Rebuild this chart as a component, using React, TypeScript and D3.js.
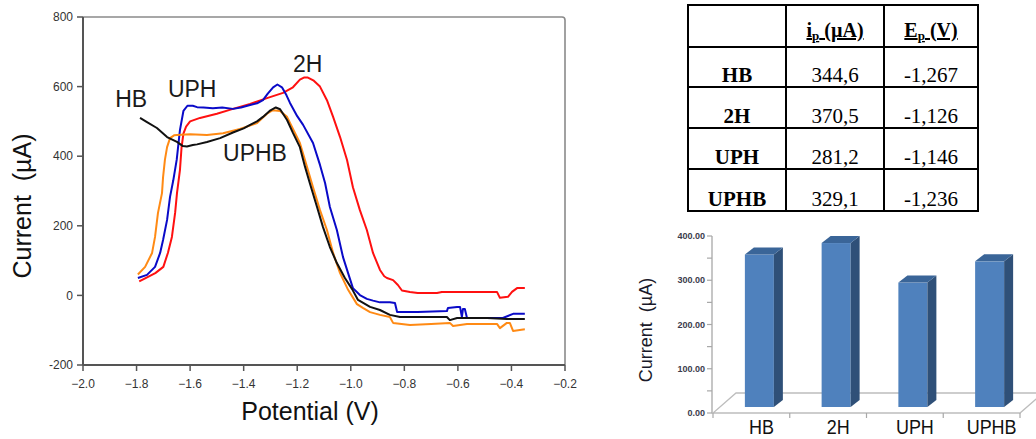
import React from 'react';
import * as d3 from 'd3';

type P = [number, number];

// ---------- line chart data (Potential V, Current µA) ----------
const xTicks = [-2.0, -1.8, -1.6, -1.4, -1.2, -1.0, -0.8, -0.6, -0.4, -0.2];
const yTicks = [-200, 0, 200, 400, 600, 800];

const series2H: P[] = [
  [-1.79, 40], [-1.77, 48], [-1.73, 64], [-1.70, 82], [-1.683, 122], [-1.668, 168], [-1.656, 237],
  [-1.649, 294], [-1.638, 360], [-1.632, 425], [-1.625, 465], [-1.615, 485], [-1.60, 500], [-1.563, 510],
  [-1.50, 522], [-1.44, 536], [-1.376, 550], [-1.313, 567], [-1.253, 582], [-1.216, 598], [-1.19, 620],
  [-1.175, 626], [-1.16, 626], [-1.14, 618], [-1.115, 600], [-1.089, 561], [-1.066, 513], [-1.04, 455],
  [-1.014, 389], [-0.992, 311], [-0.966, 245], [-0.94, 188], [-0.917, 122], [-0.891, 73], [-0.875, 55],
  [-0.865, 50], [-0.842, 44], [-0.824, 30], [-0.809, 14], [-0.779, 10], [-0.75, 7], [-0.678, 7],
  [-0.66, 10], [-0.454, 10], [-0.443, -7], [-0.413, -4], [-0.398, 10], [-0.379, 21], [-0.35, 21],
];

const seriesUPH: P[] = [
  [-1.795, 50], [-1.761, 59], [-1.731, 82], [-1.712, 122], [-1.701, 159], [-1.686, 217], [-1.675, 283],
  [-1.663, 330], [-1.65, 390], [-1.638, 475], [-1.625, 530], [-1.61, 545], [-1.59, 545], [-1.574, 541],
  [-1.55, 540], [-1.515, 538], [-1.48, 540], [-1.44, 536], [-1.41, 540], [-1.376, 547], [-1.35, 552],
  [-1.328, 561], [-1.31, 580], [-1.29, 598], [-1.274, 606], [-1.257, 598], [-1.24, 575], [-1.227, 553],
  [-1.20, 515], [-1.178, 490], [-1.141, 438], [-1.115, 375], [-1.096, 323], [-1.078, 254], [-1.052, 188],
  [-1.029, 110], [-1.01, 64], [-0.992, 21], [-0.966, 1], [-0.94, -10], [-0.917, -15], [-0.891, -20],
  [-0.854, -20], [-0.835, -22], [-0.827, -48], [-0.75, -48], [-0.641, -45], [-0.637, -36], [-0.603, -33],
  [-0.592, -33], [-0.585, -62], [-0.581, -39], [-0.574, -39], [-0.566, -65], [-0.432, -65], [-0.394, -53],
  [-0.35, -53],
];

const seriesHB: P[] = [
  [-1.787, 510], [-1.761, 498], [-1.724, 481], [-1.686, 455], [-1.649, 441], [-1.627, 429], [-1.612, 428],
  [-1.59, 432], [-1.574, 434], [-1.537, 441], [-1.488, 452], [-1.44, 468], [-1.40, 480], [-1.376, 490],
  [-1.35, 500], [-1.328, 513], [-1.30, 532], [-1.28, 540], [-1.264, 535], [-1.238, 504], [-1.216, 467],
  [-1.19, 426], [-1.171, 370], [-1.152, 320], [-1.126, 254], [-1.104, 197], [-1.078, 139], [-1.052, 93],
  [-1.022, 50], [-0.995, 18], [-0.973, -13], [-0.928, -33], [-0.891, -42], [-0.854, -56], [-0.816, -62],
  [-0.641, -62], [-0.63, -71], [-0.603, -65], [-0.491, -65], [-0.417, -68], [-0.35, -68],
];

const seriesUPHB: P[] = [
  [-1.795, 60], [-1.768, 82], [-1.742, 122], [-1.731, 168], [-1.72, 237], [-1.705, 294], [-1.701, 340],
  [-1.694, 390], [-1.686, 426], [-1.675, 452], [-1.66, 460], [-1.649, 461], [-1.60, 463], [-1.537, 461],
  [-1.477, 466], [-1.414, 478], [-1.35, 495], [-1.313, 522], [-1.291, 532], [-1.264, 530], [-1.238, 513],
  [-1.19, 438], [-1.16, 360], [-1.141, 311], [-1.115, 245], [-1.089, 188], [-1.066, 122], [-1.04, 64],
  [-1.01, 16], [-0.977, -25], [-0.955, -36], [-0.928, -48], [-0.891, -56], [-0.854, -62], [-0.842, -79],
  [-0.779, -85], [-0.70, -82], [-0.63, -79], [-0.618, -88], [-0.566, -82], [-0.454, -82], [-0.443, -94],
  [-0.417, -79], [-0.406, -79], [-0.394, -102], [-0.35, -97],
];

const lineSeries = [
  { name: '2H', color: '#ff1010', data: series2H },
  { name: 'UPH', color: '#0a0ac8', data: seriesUPH },
  { name: 'UPHB', color: '#ff8a14', data: seriesUPHB },
  { name: 'HB', color: '#111111', data: seriesHB },
];

// annotation labels placed in data coordinates (V, µA)
const curveLabels: { text: string; v: number; i: number }[] = [
  { text: 'HB', v: -1.88, i: 541 },
  { text: 'UPH', v: -1.683, i: 570 },
  { text: '2H', v: -1.216, i: 642 },
  { text: 'UPHB', v: -1.477, i: 386 },
];

// ---------- table / bar data ----------
const categories = ['HB', '2H', 'UPH', 'UPHB'];
const ipValues = [344.6, 370.5, 281.2, 329.1];
const ipLabels = ['344,6', '370,5', '281,2', '329,1'];
const epLabels = ['-1,267', '-1,126', '-1,146', '-1,236'];
const barTicks = [0, 100, 200, 300, 400];
const barMinorTicks = [50, 150, 250, 350];

const SANS = '"Liberation Sans", Arial, sans-serif';
const SERIF = '"Liberation Serif", "Times New Roman", serif';

export default function App() {
  // line chart scales
  const x = d3.scaleLinear().domain([-2, -0.2]).range([83, 565]);
  const y = d3.scaleLinear().domain([-200, 800]).range([365, 17]);
  const line = d3.line<P>().x((d) => x(d[0])).y((d) => y(d[1]));
  const fmtX = d3.format('.1f');

  // table geometry
  const colX = [688, 786, 884, 978];
  const rowY = [5, 47, 87, 128, 169, 211];
  const colMid = [(colX[0] + colX[1]) / 2, (colX[1] + colX[2]) / 2, (colX[2] + colX[3]) / 2];

  // bar chart scales
  const by = d3.scaleLinear().domain([0, 400]).range([413, 236]);
  const bx = d3.scaleBand().domain(categories).range([713, 1020]).padding(0);
  const bw = 29;
  const floorDx = 23, floorDy = -20;
  const offDx = 8, offDy = -6;
  const depDx = 9, depDy = -7;
  const fmtB = d3.format('.2f');
  const x0 = bx.range()[0];
  const x1 = bx.range()[1];
  const yBase = by(0);

  return (
    <svg width={1036} height={439} style={{ position: 'absolute', left: 0, top: 0, background: '#fff' }}>
      <rect x={0} y={0} width={1036} height={439} fill="#fff" />
      {/* ---------- line chart ---------- */}
      <g>
        <path
          d={`M${x(-2)},${y(800)} H${x(-0.2) - 3} Q${x(-0.2)},${y(800)} ${x(-0.2)},${y(800) + 3} V${y(-200)}`}
          fill="none"
          stroke="#8a8a8a"
          strokeWidth={1.6}
        />
        <line x1={x(-2)} x2={x(-2)} y1={y(800)} y2={y(-200)} stroke="#555" strokeWidth={2} />
        <line x1={x(-2)} x2={x(-0.2)} y1={y(-200)} y2={y(-200)} stroke="#555" strokeWidth={2} />
        {yTicks.map((t) => (
          <g key={'yt' + t}>
            <line x1={x(-2) - 6} x2={x(-2)} y1={y(t)} y2={y(t)} stroke="#555" strokeWidth={1.5} />
            <text x={x(-2) - 10} y={y(t)} dy="0.35em" textAnchor="end" fontSize={12} fontFamily={SANS} fill="#333">
              {t}
            </text>
          </g>
        ))}
        {xTicks.map((t) => (
          <g key={'xt' + t}>
            <line x1={x(t)} x2={x(t)} y1={y(-200)} y2={y(-200) + 6} stroke="#555" strokeWidth={1.5} />
            <text x={x(t)} y={384} dy="0.35em" textAnchor="middle" fontSize={12} fontFamily={SANS} fill="#333">
              {fmtX(t)}
            </text>
          </g>
        ))}
        {lineSeries.map((s) => (
          <path key={s.name} d={line(s.data) || ''} fill="none" stroke={s.color} strokeWidth={2} strokeLinejoin="round" />
        ))}
        {curveLabels.map((l) => (
          <text key={l.text} x={x(l.v)} y={y(l.i)} fontSize={23} fontFamily={SANS} fill="#1a1a1a">
            {l.text}
          </text>
        ))}
        <text x={310} y={420} textAnchor="middle" fontSize={25} fontFamily={SANS} fill="#111">
          Potential (V)
        </text>
        <text
          transform="translate(31,206) rotate(-90)"
          textAnchor="middle"
          fontSize={25}
          fontFamily={SANS}
          fill="#111"
          style={{ whiteSpace: 'pre' }}
        >
          {'Current  (µA)'}
        </text>
      </g>

      {/* ---------- table ---------- */}
      <g fontFamily={SERIF} fill="#000">
        <rect x={colX[0]} y={rowY[0]} width={colX[3] - colX[0]} height={rowY[5] - rowY[0]} fill="none" stroke="#000" strokeWidth={2} />
        {colX.slice(1, 3).map((cx) => (
          <line key={'c' + cx} x1={cx} x2={cx} y1={rowY[0]} y2={rowY[5]} stroke="#000" strokeWidth={2} />
        ))}
        {rowY.slice(1, 5).map((ry) => (
          <line key={'r' + ry} x1={colX[0]} x2={colX[3]} y1={ry} y2={ry} stroke="#000" strokeWidth={2} />
        ))}
        <text x={colMid[1]} y={37} textAnchor="middle" fontSize={20} fontWeight="bold" style={{ textDecoration: 'underline' }}>
          <tspan>i</tspan>
          <tspan fontSize={13} dy={3}>p</tspan>
          <tspan dy={-3}> (µA)</tspan>
        </text>
        <text x={colMid[2]} y={37} textAnchor="middle" fontSize={20} fontWeight="bold" style={{ textDecoration: 'underline' }}>
          <tspan>E</tspan>
          <tspan fontSize={13} dy={3}>p</tspan>
          <tspan dy={-3}> (V)</tspan>
        </text>
        {categories.map((c, i) => (
          <g key={'row' + c}>
            <text x={colMid[0]} y={rowY[i + 2] - 5} textAnchor="middle" fontSize={21} fontWeight="bold">
              {c}
            </text>
            <text x={colMid[1]} y={rowY[i + 2] - 5} textAnchor="middle" fontSize={21}>
              {ipLabels[i]}
            </text>
            <text x={colMid[2]} y={rowY[i + 2] - 5} textAnchor="middle" fontSize={21}>
              {epLabels[i]}
            </text>
          </g>
        ))}
      </g>

      {/* ---------- 3D bar chart ---------- */}
      <g>
        <polygon
          points={`${x0},${yBase} ${x1},${yBase} ${x1 + floorDx},${yBase + floorDy} ${x0 + floorDx},${yBase + floorDy}`}
          fill="none"
          stroke="#bdbdbd"
          strokeWidth={1.3}
        />
        <line x1={x0 - 1} x2={x0 - 1} y1={by(400)} y2={yBase} stroke="#a8a8a8" strokeWidth={1.3} />
        {[...barTicks, ...barMinorTicks].map((t) => (
          <line key={'bt' + t} x1={x0 - 6} x2={x0 - 1} y1={by(t)} y2={by(t)} stroke="#a8a8a8" strokeWidth={1.2} />
        ))}
        {barTicks.map((t) => (
          <text key={'bl' + t} x={x0 - 8} y={by(t)} dy="0.35em" textAnchor="end" fontSize={9} fontWeight="bold" fontFamily={SANS} fill="#3c3c4c">
            {fmtB(t)}
          </text>
        ))}
        {[...categories.map((c) => bx(c) as number), x1].map((bxv, i) => (
          <line key={'xb' + i} x1={bxv} x2={bxv} y1={yBase} y2={yBase + 5} stroke="#a8a8a8" strokeWidth={1.2} />
        ))}
        {categories.map((c, i) => {
          const fx = (bx(c) as number) + (bx.bandwidth() - bw) / 2 + offDx;
          const bottom = yBase + offDy;
          const top = by(ipValues[i]) + offDy;
          return (
            <g key={'bar' + c}>
              <rect x={fx} y={top} width={bw} height={bottom - top} fill="#4f81bd" />
              <polygon
                points={`${fx + bw},${top} ${fx + bw + depDx},${top + depDy} ${fx + bw + depDx},${bottom + depDy} ${fx + bw},${bottom}`}
                fill="#2f5078"
              />
              <polygon
                points={`${fx},${top} ${fx + depDx},${top + depDy} ${fx + bw + depDx},${top + depDy} ${fx + bw},${top}`}
                fill="#3a6598"
              />
            </g>
          );
        })}
        {categories.map((c) => (
          <text
            key={'cl' + c}
            transform={`translate(${(bx(c) as number) + bx.bandwidth() / 2 + 10},434) scale(1,1.15)`}
            textAnchor="middle"
            fontSize={18}
            fontFamily={SANS}
            fill="#111"
          >
            {c}
          </text>
        ))}
        <text
          transform="translate(652,330) rotate(-90)"
          textAnchor="middle"
          fontSize={18}
          fontFamily={SANS}
          fill="#1a1a2a"
          style={{ whiteSpace: 'pre' }}
        >
          {'Current  (µA)'}
        </text>
      </g>
    </svg>
  );
}
